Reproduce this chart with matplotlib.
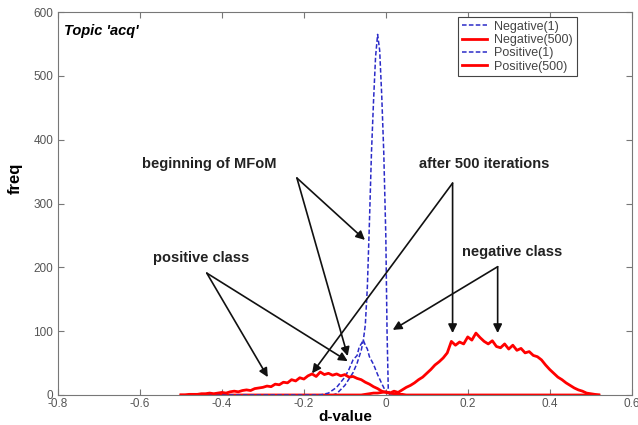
import numpy as np
import matplotlib
matplotlib.use("Agg")
import matplotlib.pyplot as plt

plt.rcParams['font.family'] = ['Liberation Sans', 'DejaVu Sans']

# d-value grid for the red (500 iterations) histograms
x_red = np.round(np.arange(-0.50, 0.525, 0.01), 2)

# Positive(500): values, -0.50 ... 0.52
pos500 = np.array([
    0, 0, 1, 1, 1, 2, 2, 3, 2, 3,
    4, 3, 5, 6, 5, 7, 8, 7, 10, 11,
    12, 14, 13, 17, 16, 20, 19, 24, 22, 27,
    25, 30, 33, 29, 36, 32, 34, 31, 33, 30,
    32, 28, 29, 26, 24, 20, 17, 13, 10, 6,
    4, 3, 2, 1, 1, 0, 0, 0, 0, 0,
    0, 0, 0, 0, 0, 0, 0, 0, 0, 0,
    0, 0, 0, 0, 0, 0, 0, 0, 0, 0,
    0, 0, 0, 0, 0, 0, 0, 0, 0, 0,
    0, 0, 0, 0, 0, 0, 0, 0, 0, 0,
    0, 0, 0])

# Negative(500)
neg500 = np.array([
    0, 0, 0, 0, 0, 0, 0, 0, 0, 0,
    0, 0, 0, 0, 0, 0, 0, 0, 0, 0,
    0, 0, 0, 0, 0, 0, 0, 0, 0, 0,
    0, 0, 0, 0, 0, 0, 0, 0, 0, 0,
    0, 0, 0, 0, 0, 1, 2, 3, 3, 4,
    5, 3, 6, 4, 8, 12, 15, 19, 24, 28,
    34, 40, 47, 52, 58, 66, 84, 78, 83, 80,
    91, 86, 97, 90, 84, 80, 85, 76, 74, 80,
    72, 78, 70, 73, 66, 68, 62, 60, 55, 47,
    40, 34, 28, 24, 19, 15, 11, 8, 6, 3,
    2, 1, 0])

# blue dashed curves (beginning of MFoM)
neg1_x = [-0.50, -0.13, -0.12, -0.10, -0.08, -0.07, -0.06, -0.055, -0.05, -0.045,
          -0.04, -0.035, -0.03, -0.025, -0.02, -0.015, -0.01, -0.005, 0.0, 0.003,
          0.006, 0.01, 0.50]
neg1_y = [0, 0, 2, 15, 35, 50, 70, 85, 110, 170,
          270, 380, 460, 530, 565, 540, 470, 380, 250, 100,
          10, 0, 0]

pos1_x = [-0.50, -0.16, -0.14, -0.12, -0.10, -0.09, -0.08, -0.07, -0.065, -0.06,
          -0.055, -0.05, -0.045, -0.04, -0.03, -0.02, -0.01, 0.0, 0.01, 0.50]
pos1_y = [0, 0, 3, 12, 28, 40, 55, 62, 75, 80,
          86, 78, 72, 60, 48, 32, 18, 5, 0, 0]

xticks = [-0.8, -0.6, -0.4, -0.2, 0, 0.2, 0.4, 0.6]
xticklabels = ['-0.8', '-0.6', '-0.4', '-0.2', '0', '0.2', '0.4', '0.6']
yticks = [0, 100, 200, 300, 400, 500, 600]

fig = plt.figure(figsize=(6.38, 4.25), dpi=100)
ax = fig.add_axes([0.091, 0.0706, 0.899, 0.901])

blue = '#2b2bc8'
red = '#ff0000'
ax.plot(neg1_x, neg1_y, '--', color=blue, lw=1.1, dashes=(3, 1.5), label='Negative(1)')
ax.plot(x_red, neg500, '-', color=red, lw=2.0, label='Negative(500)')
ax.plot(pos1_x, pos1_y, '--', color=blue, lw=1.1, dashes=(3, 1.5), label='Positive(1)')
ax.plot(x_red, pos500, '-', color=red, lw=2.0, label='Positive(500)')

ax.set_xlim(-0.8, 0.6)
ax.set_ylim(0, 600)
ax.set_xticks(xticks)
ax.set_xticklabels(xticklabels)
ax.set_yticks(yticks)
ax.tick_params(direction='in', top=True, right=True, length=4,
               labelsize=8.5, labelcolor='#555555', color='#777777')
ax.tick_params(axis='x', pad=2.5)
for s in ax.spines.values():
    s.set_color('#777777')

ax.set_xlabel('d-value', fontsize=11, fontweight='bold', labelpad=0)
ax.set_ylabel('freq', fontsize=12, fontweight='bold')
ax.yaxis.set_label_coords(-0.062, 0.567)

leg = ax.legend(loc='upper right', bbox_to_anchor=(0.904, 0.987), fontsize=9,
                fancybox=False, edgecolor='#444444', handlelength=2.0,
                labelspacing=0.1, borderpad=0.3, handletextpad=0.6,
                borderaxespad=0, framealpha=1)
for t in leg.get_texts():
    t.set_color('#444444')
leg.get_frame().set_linewidth(0.8)

ax.text(-0.785, 570, "Topic 'acq'", fontsize=10.5, fontweight='bold',
        style='italic', va='center')

tk = dict(fontsize=10.5, fontweight='bold', ha='center', va='center', color='#222222')
ax.text(-0.43, 362, 'beginning of MFoM', **tk)
ax.text(0.24, 362, 'after 500 iterations', **tk)
ax.text(0.308, 224, 'negative class', **tk)
ax.text(-0.45, 214, 'positive class', **tk)

arr = dict(arrowstyle='-|>', color='#111111', lw=1.2, mutation_scale=13,
           shrinkA=0, shrinkB=0)
arrows = [
    ((-0.217, 340), (-0.051, 243)),
    ((-0.217, 340), (-0.093, 61)),
    ((0.163, 332), (-0.18, 34)),
    ((0.163, 332), (0.163, 97)),
    ((0.273, 201), (0.273, 97)),
    ((0.273, 201), (0.017, 102)),
    ((-0.437, 191), (-0.288, 28)),
    ((-0.437, 191), (-0.093, 53)),
]
for start, end in arrows:
    ax.annotate('', xy=end, xytext=start, arrowprops=arr)

fig.savefig('out.png', dpi=100)
